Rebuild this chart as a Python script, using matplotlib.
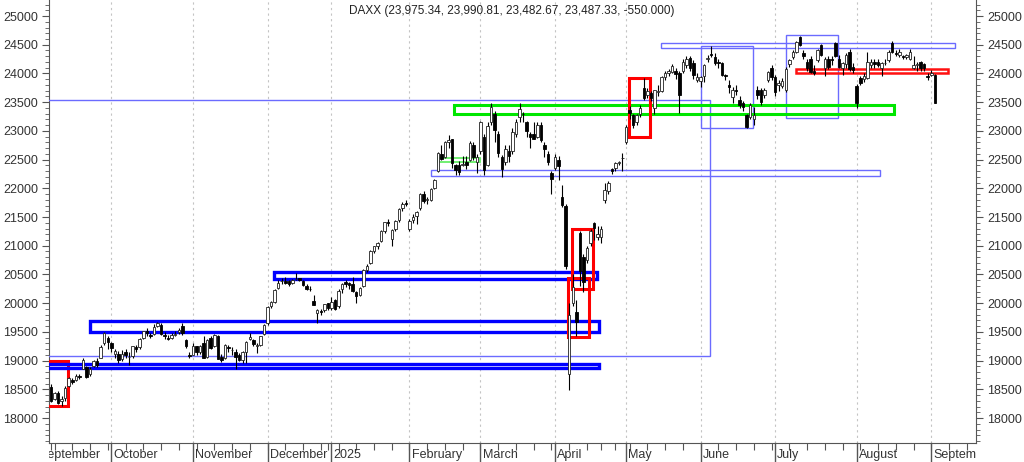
import numpy as np
import pandas as pd
import matplotlib
matplotlib.use("Agg")
import matplotlib.pyplot as plt
from matplotlib.patches import Rectangle
from matplotlib.transforms import Bbox, TransformedBbox, blended_transform_factory

plt.rcParams['font.family'] = ['Liberation Sans', 'DejaVu Sans']

# trading days (Xetra holidays removed), data runs 2024-09-06 .. 2025-09-02
holidays = ['2024-12-24', '2024-12-25', '2024-12-26', '2024-12-31', '2025-01-01',
            '2025-04-18', '2025-04-21', '2025-05-01']
days = pd.bdate_range('2024-09-06', '2025-09-19')
days = days[~days.isin(pd.to_datetime(holidays))]

# OHLC, one row of values per month
opens = [
    # Sep 2024
    18540, 18330, 18440, 18300, 18340, 18560, 18660, 18660, 18730, 18860, 18880, 18760, 18900, 19000, 19050, 19300, 19400,
    # Oct
    19300, 19120, 19120, 19030, 19150, 19060, 19080, 19230, 19230, 19400, 19520, 19440, 19460, 19600, 19620, 19450, 19400,
    19400, 19450, 19500, 19600, 19350, 19100,
    # Nov
    19100, 19250, 19150, 19300, 19060, 19400, 19250, 19420, 19060, 19050, 19230, 19180, 19150, 19100, 19010, 19150, 19380,
    19350, 19260, 19280, 19460,
    # Dec
    19650, 19950, 20020, 20260, 20380, 20390, 20380, 20350, 20420, 20430, 20380, 20300, 20250, 20030, 19820, 19850, 19880, 20000,
    # Jan 2025
    19920, 20050, 19950, 20250, 20360, 20350, 20330, 20200, 20150, 20300, 20580, 20700, 20900, 21000, 21080, 21250, 21420,
    21120, 21300, 21450, 21650, 21750,
    # Feb
    21300, 21450, 21520, 21650, 21900, 21800, 21800, 22000, 22300, 22600, 22550, 22800, 22850, 22400, 22400, 22400, 22450,
    22500, 22750, 22450,
    # Mar
    22650, 22900, 22400, 23150, 23300, 22950, 22550, 22450, 22650, 22650, 22950, 23250, 23300, 23150, 22950, 22950, 22900,
    23100, 22750, 22600, 22270,
    # Apr
    22350, 22500, 21850, 21700, 18760, 20000, 19850, 21220, 20800, 20750, 21050, 21400, 21150, 21150, 21800, 21950, 22330,
    22350, 22440, 22520,
    # May
    22810, 23360, 23280, 23150, 23300, 23750, 23620, 23660, 23400, 23680, 23700, 23930, 24000, 24030, 24050, 24000, 24050,
    24150, 24270, 24180, 23890,
    # Jun
    23870, 23950, 24250, 24330, 24280, 24200, 24180, 23970, 23800, 23590, 23700, 23540, 23480, 23270, 23240, 23200, 23710,
    23710, 23630, 23880, 24100,
    # Jul
    23940, 23800, 23790, 23720, 24160, 24290, 24380, 24630, 24350, 24200, 24250, 24050, 24230, 24500, 24100, 24250, 24260,
    24530, 24260, 24100, 24160, 24380, 24120,
    # Aug
    23780, 23920, 23900, 23920, 24150, 24200, 24200, 24100, 24180, 24230, 24530, 24350, 24320, 24300, 24280, 24260, 24100,
    24150, 24200, 24160, 23960,
    # Sep
    23980, 23975.34,
]
highs = [
    18600, 18460, 18470, 18380, 18560, 18720, 18700, 18770, 18760, 19040, 18900, 18880, 19010, 19050, 19270, 19500, 19420,
    19320, 19200, 19160, 19180, 19200, 19150, 19260, 19270, 19390, 19520, 19570, 19480, 19640, 19680, 19650, 19490, 19450,
    19480, 19520, 19560, 19650, 19380, 19150,
    19300, 19260, 19280, 19430, 19380, 19420, 19460, 19440, 19120, 19290, 19280, 19230, 19200, 19130, 19160, 19340, 19480,
    19380, 19300, 19430, 19640,
    19950, 20030, 20240, 20400, 20430, 20460, 20400, 20420, 20520, 20440, 20400, 20330, 20300, 20150, 19900, 19900, 19990, 20010,
    20100, 20080, 20250, 20350, 20400, 20370, 20450, 20210, 20290, 20600, 20680, 20920, 21000, 21070, 21270, 21420, 21470,
    21300, 21450, 21650, 21760, 21800,
    21460, 21560, 21600, 21920, 21950, 21850, 22000, 22160, 22630, 22760, 22820, 22930, 22860, 22420, 22480, 22570, 22560,
    22820, 22800, 22600,
    23180, 22950, 23150, 23480, 23340, 23000, 22580, 22750, 22750, 23050, 23200, 23480, 23330, 23180, 22980, 23150, 23150,
    23150, 22800, 22650, 22300,
    22600, 22560, 22050, 21720, 20000, 20500, 20050, 21250, 20850, 21000, 21300, 21420, 21350, 21350, 22100, 22120, 22350,
    22450, 22480, 22610,
    23100, 23440, 23300, 23300, 23450, 23920, 23750, 23700, 23720, 23800, 23960, 24050, 24080, 24170, 24100, 24050, 24250,
    24300, 24300, 24230, 24000,
    23960, 24160, 24320, 24480, 24350, 24260, 24200, 23990, 23880, 23760, 23800, 23600, 23520, 23300, 23480, 23420, 23780,
    23740, 23740, 24040, 24150,
    23980, 23880, 23920, 24110, 24260, 24400, 24570, 24660, 24400, 24260, 24300, 24150, 24420, 24510, 24280, 24300, 24300,
    24550, 24320, 24200, 24350, 24420, 24180,
    23820, 23950, 24000, 24380, 24250, 24260, 24260, 24200, 24250, 24400, 24560, 24400, 24420, 24320, 24330, 24420, 24300,
    24200, 24220, 24180, 24000,
    24060, 23990.81,
]
lows = [
    18280, 18310, 18250, 18210, 18300, 18540, 18600, 18650, 18680, 18850, 18700, 18740, 18880, 18880, 19040, 19280, 19200,
    19150, 19050, 18950, 18990, 19050, 18920, 19050, 19150, 19200, 19380, 19430, 19390, 19450, 19580, 19440, 19370, 19350,
    19380, 19420, 19470, 19450, 19220, 19050,
    19090, 19100, 19120, 19050, 19050, 19200, 19240, 19020, 18980, 19030, 19150, 19100, 18850, 18990, 18960, 18950, 19350,
    19250, 19140, 19250, 19440,
    19620, 19920, 20000, 20240, 20330, 20330, 20300, 20330, 20400, 20380, 20300, 20230, 20220, 19960, 19660, 19800, 19850, 19880,
    19880, 19880, 19920, 20180, 20280, 20250, 20200, 20000, 20120, 20280, 20540, 20680, 20880, 20950, 21060, 21230, 21350,
    21000, 21250, 21420, 21600, 21700,
    21250, 21400, 21380, 21630, 21750, 21720, 21780, 21980, 22280, 22500, 22530, 22700, 22350, 22230, 22230, 22380, 22330,
    22480, 22500, 22260,
    22600, 22230, 22380, 23100, 22800, 22550, 22200, 22400, 22450, 22600, 22900, 23150, 23150, 22900, 22700, 22850, 22880,
    22800, 22550, 22400, 21900,
    22320, 22150, 21680, 20600, 18490, 19950, 19420, 20300, 20200, 20700, 21000, 21100, 21100, 21050, 21750, 21900, 22250,
    22300, 22400, 22300,
    22780, 23200, 23050, 23100, 23250, 23540, 23580, 23520, 23300, 23600, 23680, 23880, 23950, 24000, 23900, 23310, 24000,
    24100, 24050, 23900, 23850,
    23760, 23850, 24200, 24280, 24150, 24100, 23950, 23880, 23660, 23480, 23620, 23400, 23350, 23050, 23200, 23100, 23550,
    23450, 23580, 23850, 23880,
    23600, 23700, 23750, 23680, 24120, 24250, 24350, 24480, 24250, 24050, 24000, 23980, 24200, 24300, 23950, 24080, 24150,
    24280, 24100, 23970, 24100, 24050, 24000,
    23390, 23800, 23850, 23900, 24100, 24100, 24120, 23950, 24150, 24200, 24350, 24300, 24280, 24250, 24250, 24240, 24080,
    24050, 24050, 24050, 23880,
    23950, 23482.67,
]
closes = [
    18301, 18443, 18266, 18330, 18518, 18699, 18633, 18726, 18711, 19002, 18720, 18847, 18996, 18918, 19238, 19473, 19325,
    19213, 19165, 19015, 19121, 19104, 19066, 19254, 19210, 19374, 19509, 19486, 19432, 19583, 19657, 19462, 19422, 19378,
    19443, 19464, 19532, 19479, 19257, 19078,
    19255, 19148, 19256, 19039, 19362, 19215, 19448, 19034, 19003, 19264, 19211, 19189, 19060, 19004, 19146, 19323, 19406,
    19295, 19262, 19426, 19626,
    19934, 20016, 20232, 20358, 20385, 20346, 20330, 20399, 20426, 20406, 20314, 20246, 20243, 19970, 19885, 19848, 19984, 19909,
    20025, 19906, 20217, 20340, 20330, 20317, 20215, 20133, 20271, 20575, 20655, 20903, 20990, 21042, 21254, 21411, 21395,
    21282, 21430, 21637, 21727, 21732,
    21428, 21505, 21586, 21902, 21787, 21800, 21981, 22148, 22612, 22513, 22798, 22844, 22434, 22314, 22287, 22425, 22410,
    22795, 22551, 22551,
    23147, 22327, 23081, 23419, 23009, 22620, 22329, 22676, 22568, 22987, 23155, 23381, 23288, 22999, 22892, 22852, 23109,
    22839, 22679, 22461, 22163,
    22539, 22390, 21717, 20642, 19790, 20280, 19671, 20563, 20374, 20955, 21254, 21311, 21206, 21294, 21962, 22100, 22300,
    22440, 22460, 22530,
    23070, 23310, 23100, 23280, 23400, 23570, 23690, 23570, 23710, 23700, 23940, 24000, 24036, 24122, 23999, 23630, 24200,
    24260, 24090, 23970, 23940,
    23930, 24150, 24276, 24323, 24180, 24174, 23970, 23949, 23771, 23710, 23699, 23450, 23420, 23060, 23450, 23269, 23620,
    23500, 23710, 24020, 23930,
    23680, 23830, 23860, 24080, 24230, 24380, 24549, 24500, 24300, 24090, 24030, 24009, 24400, 24320, 24250, 24110, 24240,
    24296, 24110, 24180, 24320, 24080, 24065,
    23480, 23830, 23960, 24200, 24200, 24163, 24140, 24190, 24190, 24370, 24370, 24340, 24380, 24290, 24320, 24380, 24150,
    24152, 24100, 24090, 23930,
    24000, 23487.33,
]

# drawn zones: (first bar, last bar, low, high, style)
zones = [
    (-2.0, 4.8, 18210, 18990, 'red'),
    (-2.0, 154.4, 18870, 18935, 'blue'),
    (11.0, 154.4, 19505, 19695, 'blue'),
    (62.8, 153.8, 20425, 20540, 'blue'),
    (-2.0, 185.6, 19075, 23546, 'thin'),
    (107.0, 233.5, 22215, 22320, 'thin'),
    (171.8, 254.6, 24445, 24530, 'thin'),
    (183.0, 197.7, 23055, 24483, 'thin'),
    (207.0, 221.7, 23230, 24665, 'thin'),
    (113.5, 237.5, 23295, 23455, 'green'),
    (109.0, 120.8, 22465, 22525, 'lightgreen'),
    (162.8, 168.7, 22895, 23925, 'red'),
    (146.8, 152.7, 20252, 21296, 'red'),
    (145.6, 151.5, 19411, 20438, 'red'),
    (209.9, 252.7, 24002, 24078, 'redthin'),
]
zone_style = {
    'red': dict(edgecolor='#ff0000', lw=2.2),
    'redthin': dict(edgecolor='#ff1010', lw=1.8),
    'blue': dict(edgecolor='#0000ff', lw=2.4),
    'thin': dict(edgecolor='#6b6bff', lw=1.0),
    'green': dict(edgecolor='#00e600', lw=2.2),
    'lightgreen': dict(edgecolor='#66ee66', lw=1.3),
}

title = 'DAXX (23,975.34, 23,990.81, 23,482.67, 23,487.33, -550.000)'

o = np.array(opens, float)
h = np.array(highs, float)
l = np.array(lows, float)
c = np.array(closes, float)
idx = np.arange(len(c))

fig = plt.figure(figsize=(10.24, 4.62), dpi=100)
ax = fig.add_axes([49 / 1024, 19 / 462, 927 / 1024, 443 / 462])
ax.set_xlim(-0.56, 260.6)
ax.set_ylim(17565, 25279)

# month separators
dser = pd.Series(np.arange(len(days)), index=days)
month_first = dser.groupby([days.year, days.month]).first()
names = ['September', 'October', 'November', 'December', '2025', 'February', 'March',
         'April', 'May', 'June', 'July', 'August', 'September']
bt = blended_transform_factory(ax.transData, ax.transAxes)
clip = TransformedBbox(Bbox([[0, -1], [1, 1]]), ax.transAxes)
for pos, name in zip([-4] + list(month_first.values[1:]), names):
    if pos > 0:
        ax.axvline(pos, color='#c4c4c4', lw=0.8, ls=(0, (2, 3)), zorder=0)
        ax.plot([pos, pos], [0, -0.045], transform=bt, color='#555555', lw=1, clip_on=False)
    t = ax.text(pos + 0.6, -0.028, name, transform=bt, fontsize=9, color='#333333',
                ha='left', va='center', clip_on=True)
    t.set_clip_box(clip)

# weekly ticks (first trading day of each week)
wk = dser.groupby(days.to_period('W')).first().values
ax.set_xticks(wk)
ax.set_xticklabels([])
ax.tick_params(axis='x', length=5, color='#555555', direction='out')

# zones
for x0, x1, y0, y1, st in zones:
    ax.add_patch(Rectangle((x0, y0), x1 - x0, y1 - y0, facecolor='none', zorder=3,
                           **zone_style[st]))

# candles
ax.vlines(idx, l, h, color='black', lw=0.8, zorder=4)
up = c >= o
body = np.abs(c - o)
body[body < 8] = 8
ax.bar(idx[up], body[up], bottom=np.minimum(o, c)[up], width=0.7, color='white',
       edgecolor='#222222', linewidth=0.6, zorder=5)
ax.bar(idx[~up], body[~up], bottom=np.minimum(o, c)[~up], width=0.7, color='black',
       edgecolor='black', linewidth=0.6, zorder=5)

# y axis on both sides
ax.set_yticks(np.arange(18000, 25001, 500))
ax.set_yticks(np.arange(17600, 25300, 100), minor=True)
ax.tick_params(axis='y', which='both', left=True, right=True, labelleft=True,
               labelright=True, direction='out', color='#555555', labelsize=9,
               labelcolor='#333333')
ax.tick_params(axis='y', which='major', length=5, pad=3)
ax.tick_params(axis='y', which='minor', length=3)
for s in ['left', 'right', 'bottom']:
    ax.spines[s].set_color('#555555')
ax.spines['top'].set_visible(False)

fig.text(0.5, 1 - 11 / 462, title, ha='center', va='center', fontsize=8.5, color='#222222')

fig.savefig('out.png', dpi=100)
